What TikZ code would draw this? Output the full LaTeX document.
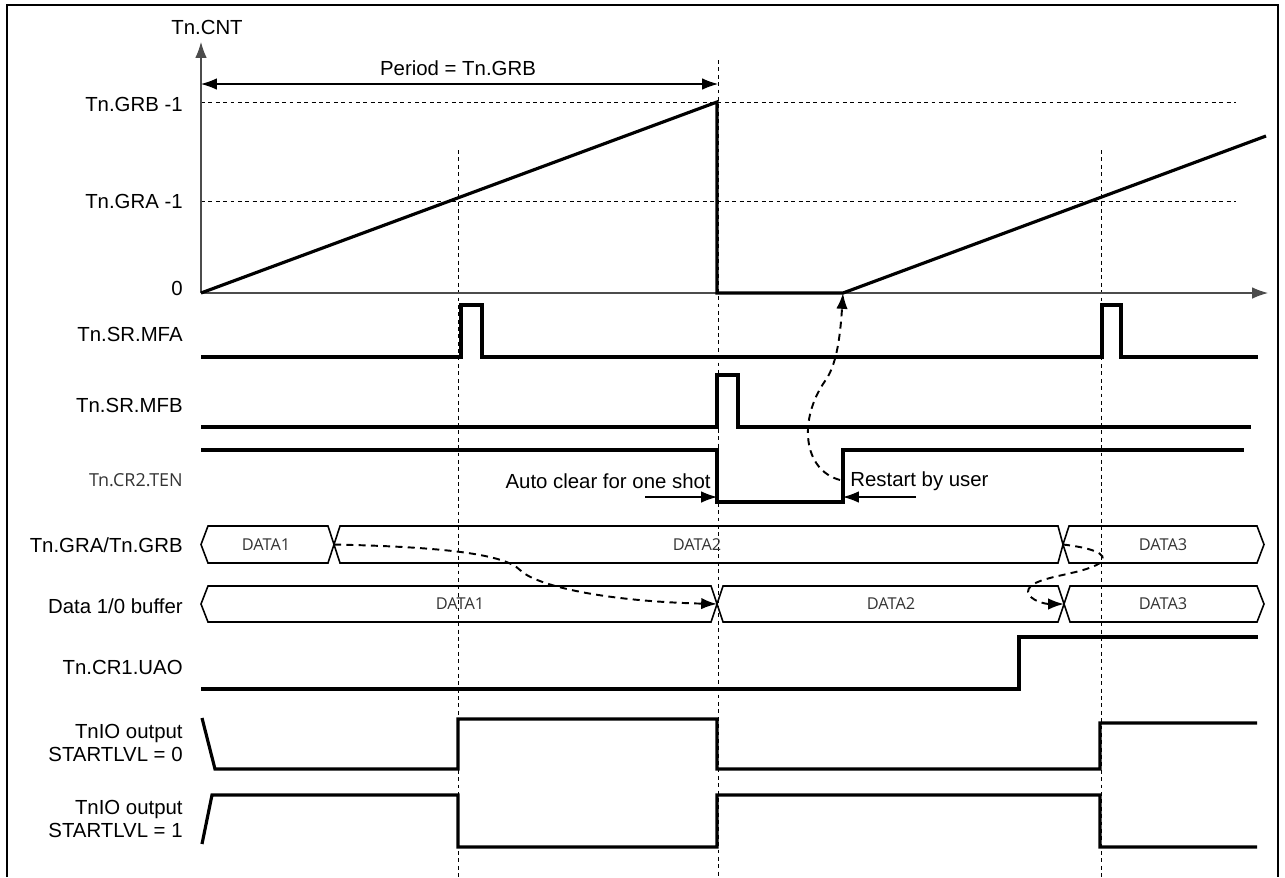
\documentclass[tikz,border=0pt]{standalone}
\usepackage{fontspec}
\setmainfont{Liberation Sans}
\newfontfamily\datafont{Open Sans}
\usetikzlibrary{arrows.meta, positioning}

\begin{document}
\begin{tikzpicture}[
      x=0.02cm, y=-0.02cm,
      font=\fontsize{11.6}{13}\selectfont,
      sig/.style={line width=1.8pt, line join=miter},
      axis/.style={line width=0.6pt, draw=black!70, -{Latex[length=9pt,width=6.5pt]}},
      guide/.style={line width=0.5pt, dash pattern=on 2.2pt off 2pt},
      bus/.style={line width=0.9pt},
      flow/.style={line width=1.1pt, dash pattern=on 4pt off 3pt, -{Latex[length=9pt,width=6.5pt]}},
      note/.style={line width=0.6pt, -{Latex[length=9pt,width=6.5pt]}},
      lbl/.style={anchor=east, inner sep=0pt, align=right},
      val/.style={font=\datafont\fontsize{9.3}{11}\selectfont, text=black!80}
    ]
      \useasboundingbox (0,0) rectangle (1285,877);
      \draw[line width=0.8pt] (7,877) -- (7,5) -- (1278,5) -- (1278,877);

      % time markers
      \draw[guide] (458,150) -- (458,877);
      \draw[guide] (718,60) -- (718,877);
      \draw[guide] (1101,150) -- (1101,877);
      \draw[guide] (201,102) -- (1236,102);
      \draw[guide] (201,201) -- (1236,201);

      % counter
      \coordinate (origin) at (201,293);
      \draw[axis] (origin) -- (201,42);
      \draw[axis] (origin) -- (1268,293);
      \node (cnt) at (207,27) {Tn.CNT};
      \node[lbl] (grb) at (183,104) {Tn.GRB -1};
      \node[lbl] (gra) at (183,201) {Tn.GRA -1};
      \node[lbl] (zero) at (183,288) {0};
      \coordinate (pstart) at (201,84);
      \coordinate (pend) at (718,84);
      \draw[line width=0.6pt, {Latex[length=9pt,width=6.5pt]}-{Latex[length=9pt,width=6.5pt]}] (pstart) -- (pend);
      \node (period) at (458,68) {Period = Tn.GRB};
      \coordinate (restart) at (843,293);
      \draw[sig] (origin) -- (717,102) -- (717,293) -- (restart) -- (1266,136);

      % flags
      \node[lbl] (mfa) at (183,334) {Tn.SR.MFA};
      \draw[sig] (201,357) -- (461,357) -- (461,305) -- (482,305) -- (482,357)
        -- (1102,357) -- (1102,305) -- (1121,305) -- (1121,357) -- (1258,357);
      \node[lbl] (mfb) at (183,405) {Tn.SR.MFB};
      \draw[sig] (201,427) -- (717,427) -- (717,375) -- (738,375) -- (738,427) -- (1251,427);

      % enable
      \node[lbl, font=\datafont\fontsize{10.2}{12}\selectfont, text=black!80] (ten) at (183,480) {Tn.CR2.TEN};
      \coordinate (clr) at (717,497);
      \coordinate (usr) at (843,497);
      \draw[sig] (201,450) -- (717,450) -- (717,502) -- (843,502) -- (843,450) -- (1244,450);
      \node[anchor=east, inner sep=0pt] (auto) at (711,481) {Auto clear for one shot};
      \node[anchor=west, inner sep=0pt] (user) at (850,481) {Restart by user};
      \draw[note] (645,497) -- (clr);
      \draw[note] (916,497) -- (usr);
      \draw[flow] (840,480) .. controls (803,470) and (798,420) .. (825,381)
        .. controls (836,366) and (840,340) .. (restart);

      % registers
      \node[lbl] (gr) at (183,545) {Tn.GRA/Tn.GRB};
      \draw[bus] (201,544.5) -- (208,526) -- (328,526) -- (334,544.5) -- (328,563) -- (208,563) -- cycle;
      \draw[bus] (334,544.5) -- (340,526) -- (1058,526) -- (1063,544.5) -- (1058,563) -- (340,563) -- cycle;
      \draw[bus] (1063,544.5) -- (1069,526) -- (1257,526) -- (1264,544.5) -- (1257,563) -- (1069,563) -- cycle;
      \node[val] (gr1) at (266,544.5) {DATA1};
      \node[val] (gr2) at (697,544.5) {DATA2};
      \node[val] (gr3) at (1163,544.5) {DATA3};
      \coordinate (grx1) at (334,544.5);
      \coordinate (grx2) at (1063,544.5);

      \node[lbl] (buf) at (183,606) {Data 1/0 buffer};
      \draw[bus] (201,604) -- (208,586) -- (711,586) -- (717,604) -- (711,622) -- (208,622) -- cycle;
      \draw[bus] (717,604) -- (723,586) -- (1058,586) -- (1064,604) -- (1058,622) -- (723,622) -- cycle;
      \draw[bus] (1064,604) -- (1070,586) -- (1257,586) -- (1264,604) -- (1257,622) -- (1070,622) -- cycle;
      \node[val] (buf1) at (460,604) {DATA1};
      \node[val] (buf2) at (891,604) {DATA2};
      \node[val] (buf3) at (1163,604) {DATA3};
      \coordinate (bufx1) at (717,604);
      \coordinate (bufx2) at (1064,604);

      \draw[flow] (grx1) .. controls (450,547) and (505,555) .. (520,570)
        .. controls (535,585) and (600,601) .. (bufx1);
      \draw[flow] (grx2) .. controls (1085,547) and (1112,553) .. (1100,563)
        .. controls (1080,576) and (1028,576) .. (1028,592)
        .. controls (1030,601) and (1046,604) .. (bufx2);

      % update mode
      \node[lbl] (uao) at (183,667) {Tn.CR1.UAO};
      \draw[sig] (201,689) -- (1019,689) -- (1019,637) -- (1258,637);

      % outputs
      \node[lbl] (io0) at (183,743) {TnIO output\\STARTLVL = 0};
      \draw[sig] (202,718) -- (215,769) -- (458,769) -- (458,719) -- (717,719) -- (717,769)
        -- (1100,769) -- (1100,723) -- (1257,723);
      \node[lbl] (io1) at (183,819) {TnIO output\\STARTLVL = 1};
      \draw[sig] (202,844) -- (212,795) -- (458,795) -- (458,847) -- (717,847) -- (717,795)
        -- (1100,795) -- (1100,847) -- (1257,847);
    \end{tikzpicture}
\end{document}
